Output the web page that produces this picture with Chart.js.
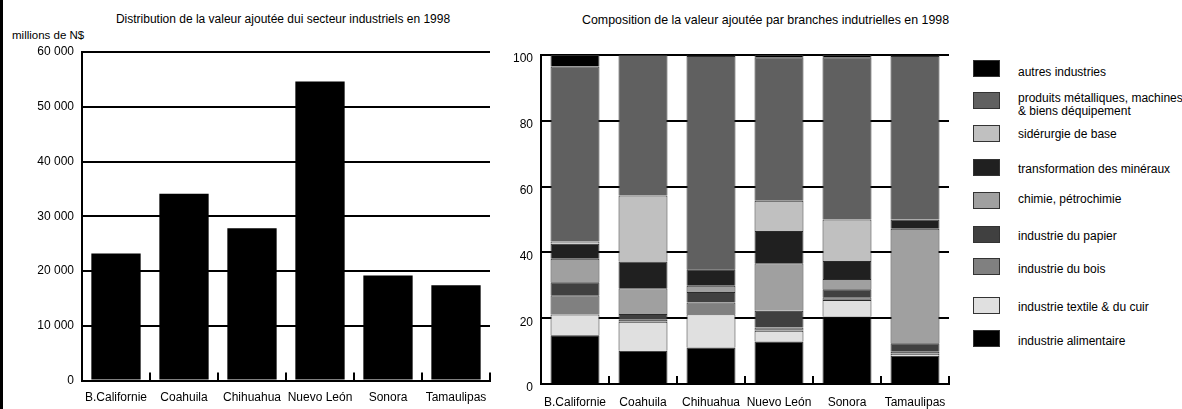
<!DOCTYPE html>
<html>
<head>
<meta charset="utf-8">
<script src="https://cdn.jsdelivr.net/npm/chart.js@4.4.0/dist/chart.umd.min.js"></script>
<style>
    body { margin: 0; background: #fff; font-family: "Liberation Sans", Arial, sans-serif; color: #000; }
    #page { position: relative; width: 1182px; height: 409px; overflow: hidden; }
    .txt { position: absolute; white-space: pre; font-size: 12px; line-height: 14px; }
    .case { position: absolute; width: 25px; height: 15px; border: 1px solid #333; }
    .leg { position: absolute; white-space: pre; font-size: 12px; line-height: 13px; }
    canvas { position: absolute; top: 0; }
</style>
</head>
<body>
<div id="page">
    <div style="position:absolute;left:0;top:0;width:3px;height:409px;background:#000"></div>
    <div class="txt" style="left:107px;top:12px;width:352px;text-align:center">Distribution de la valeur ajoutée dui secteur industriels en 1998</div>
    <div class="txt" style="left:12px;top:28px;font-size:11.5px">millions de N$</div>
    <div class="txt" style="left:582px;top:13px;font-size:12.4px">Composition de la valeur ajoutée par branches indutrielles en 1998</div>
    <canvas id="valeurChart" width="500" height="409" style="left:0"></canvas>
    <canvas id="brancheChart" width="480" height="409" style="left:480px"></canvas>
    <div id="legende"></div>
</div>
<script>
// Etats
var regions = ['B.Californie', 'Coahuila', 'Chihuahua', 'Nuevo León', 'Sonora', 'Tamaulipas'];

// Valeur ajoutée (millions de N$)
var valeurAjoutee = [23200, 34100, 27800, 54600, 19200, 17400];

// Composition par branche (%), du bas vers le haut
var alimentaire = [14.8, 10.1, 11.1, 12.9, 20.5, 8.6];
var textile     = [6.3, 8.8, 10.1, 3.3, 5.0, 0.6];
var bois        = [5.9, 0.6, 3.6, 1.0, 0.9, 0.6];
var papier      = [3.9, 1.8, 3.2, 5.1, 2.4, 2.6];
var chimie      = [7.2, 7.8, 1.9, 14.4, 3.1, 34.8];
var mineraux    = [4.5, 8.1, 5.0, 9.8, 5.5, 2.8];
var siderurgie  = [0.7, 20.1, 0, 9.2, 12.6, 0];
var metalliques = [53.2, 42.7, 64.8, 43.6, 49.3, 49.7];
var autres      = [3.5, 0, 0.3, 0.7, 0.7, 0.3];

var brancheNoms = [
    'industrie alimentaire',
    'industrie textile & du cuir',
    'industrie du bois',
    'industrie du papier',
    'chimie, pétrochimie',
    'transformation des minéraux',
    'sidérurgie de base',
    'produits métalliques, machines\n& biens déquipement',
    'autres industries'
];
var brancheCouleurs = ['#000000', '#e0e0e0', '#808080', '#404040', '#a0a0a0', '#202020', '#c0c0c0', '#606060', '#000000'];
var brancheValeurs = [alimentaire, textile, bois, papier, chimie, mineraux, siderurgie, metalliques, autres];

Chart.defaults.font.family = '"Liberation Sans", Arial, sans-serif';
Chart.defaults.font.size = 12;
Chart.defaults.color = '#000';

// petites marques verticales entre les catégories, sur l'axe du bas
var marquesAxe = {
    id: 'marquesAxe',
    afterDatasetsDraw(chart) {
        var x = chart.scales.x;
        var area = chart.chartArea;
        var ctx = chart.ctx;
        var pas = x.getPixelForValue(1) - x.getPixelForValue(0);
        ctx.save();
        ctx.strokeStyle = '#000';
        ctx.lineWidth = 2;
        for (var i = 0; i < regions.length; i++) {
            var px = x.getPixelForValue(i) + pas / 2;
            ctx.beginPath();
            ctx.moveTo(px, area.bottom);
            ctx.lineTo(px, area.bottom - 8);
            ctx.stroke();
        }
        ctx.restore();
    }
};

function formatMilliers(v) {
    return String(v).replace(/\B(?=(\d{3})+(?!\d))/g, ' ');
}

// Graphique 1 : valeur ajoutée
function initValeurChart() {
    var ctx = document.getElementById('valeurChart').getContext('2d');
    new Chart(ctx, {
        type: 'bar',
        data: {
            labels: regions,
            datasets: [{
                label: 'Valeur ajoutée',
                data: valeurAjoutee,
                backgroundColor: '#000',
                barPercentage: 0.725,
                categoryPercentage: 1
            }]
        },
        options: {
            responsive: false,
            animation: false,
            layout: { padding: { left: 0, right: 10, top: 52, bottom: 0 } },
            scales: {
                x: {
                    afterFit: function (s) { s.height = 28.5; },
                    grid: { display: true, drawOnChartArea: false, drawTicks: false },
                    border: { color: '#000', width: 2 },
                    ticks: { padding: 10, maxRotation: 0, minRotation: 0, autoSkip: false }
                },
                y: {
                    min: 0,
                    max: 60000,
                    afterFit: function (s) { s.width = 82; },
                    grid: { color: '#000', lineWidth: 2, drawTicks: false },
                    border: { color: '#000', width: 2 },
                    ticks: { stepSize: 10000, padding: 8, callback: formatMilliers }
                }
            },
            plugins: {
                legend: { display: false },
                tooltip: { enabled: false }
            }
        },
        plugins: [marquesAxe]
    });
}

// Graphique 2 : composition par branches
function initBrancheChart() {
    var ctx = document.getElementById('brancheChart').getContext('2d');
    var datasets = brancheNoms.map(function (nom, i) {
        return {
            label: nom,
            data: brancheValeurs[i],
            backgroundColor: brancheCouleurs[i],
            borderColor: '#2a2a2a',
            borderWidth: 1,
            barPercentage: 0.72,
            categoryPercentage: 1
        };
    });
    new Chart(ctx, {
        type: 'bar',
        data: { labels: regions, datasets: datasets },
        options: {
            responsive: false,
            animation: false,
            layout: { padding: { left: 0, right: 11, top: 55, bottom: 0 } },
            scales: {
                x: {
                    stacked: true,
                    afterFit: function (s) { s.height = 25; },
                    grid: { display: true, drawOnChartArea: false, drawTicks: false },
                    border: { color: '#000', width: 2 },
                    ticks: { padding: 11, maxRotation: 0, minRotation: 0, autoSkip: false }
                },
                y: {
                    stacked: true,
                    min: 0,
                    max: 100,
                    afterFit: function (s) { s.width = 61; },
                    grid: { color: '#000', lineWidth: 2, drawTicks: false },
                    border: { color: '#000', width: 2 },
                    ticks: { stepSize: 20, padding: 8, labelOffset: 4 }
                }
            },
            plugins: {
                legend: { display: false },
                tooltip: { enabled: false }
            }
        },
        plugins: [marquesAxe]
    });
}

// Légende (de haut en bas)
function initLegende() {
    var casesHaut = [60, 92, 125, 159, 192, 226, 258, 297, 330];
    var textesHaut = [66, 92, 128, 163, 193, 230, 263, 301, 335];
    var box = document.getElementById('legende');
    var n = brancheNoms.length;
    for (var k = 0; k < n; k++) {
        var i = n - 1 - k;
        var c = document.createElement('div');
        c.className = 'case';
        c.style.left = '973px';
        c.style.top = casesHaut[k] + 'px';
        c.style.background = brancheCouleurs[i];
        box.appendChild(c);
        var t = document.createElement('div');
        t.className = 'leg';
        t.style.left = '1018px';
        t.style.top = textesHaut[k] + 'px';
        t.textContent = brancheNoms[i];
        box.appendChild(t);
    }
}

initValeurChart();
initBrancheChart();
initLegende();
</script>
</body>
</html>
